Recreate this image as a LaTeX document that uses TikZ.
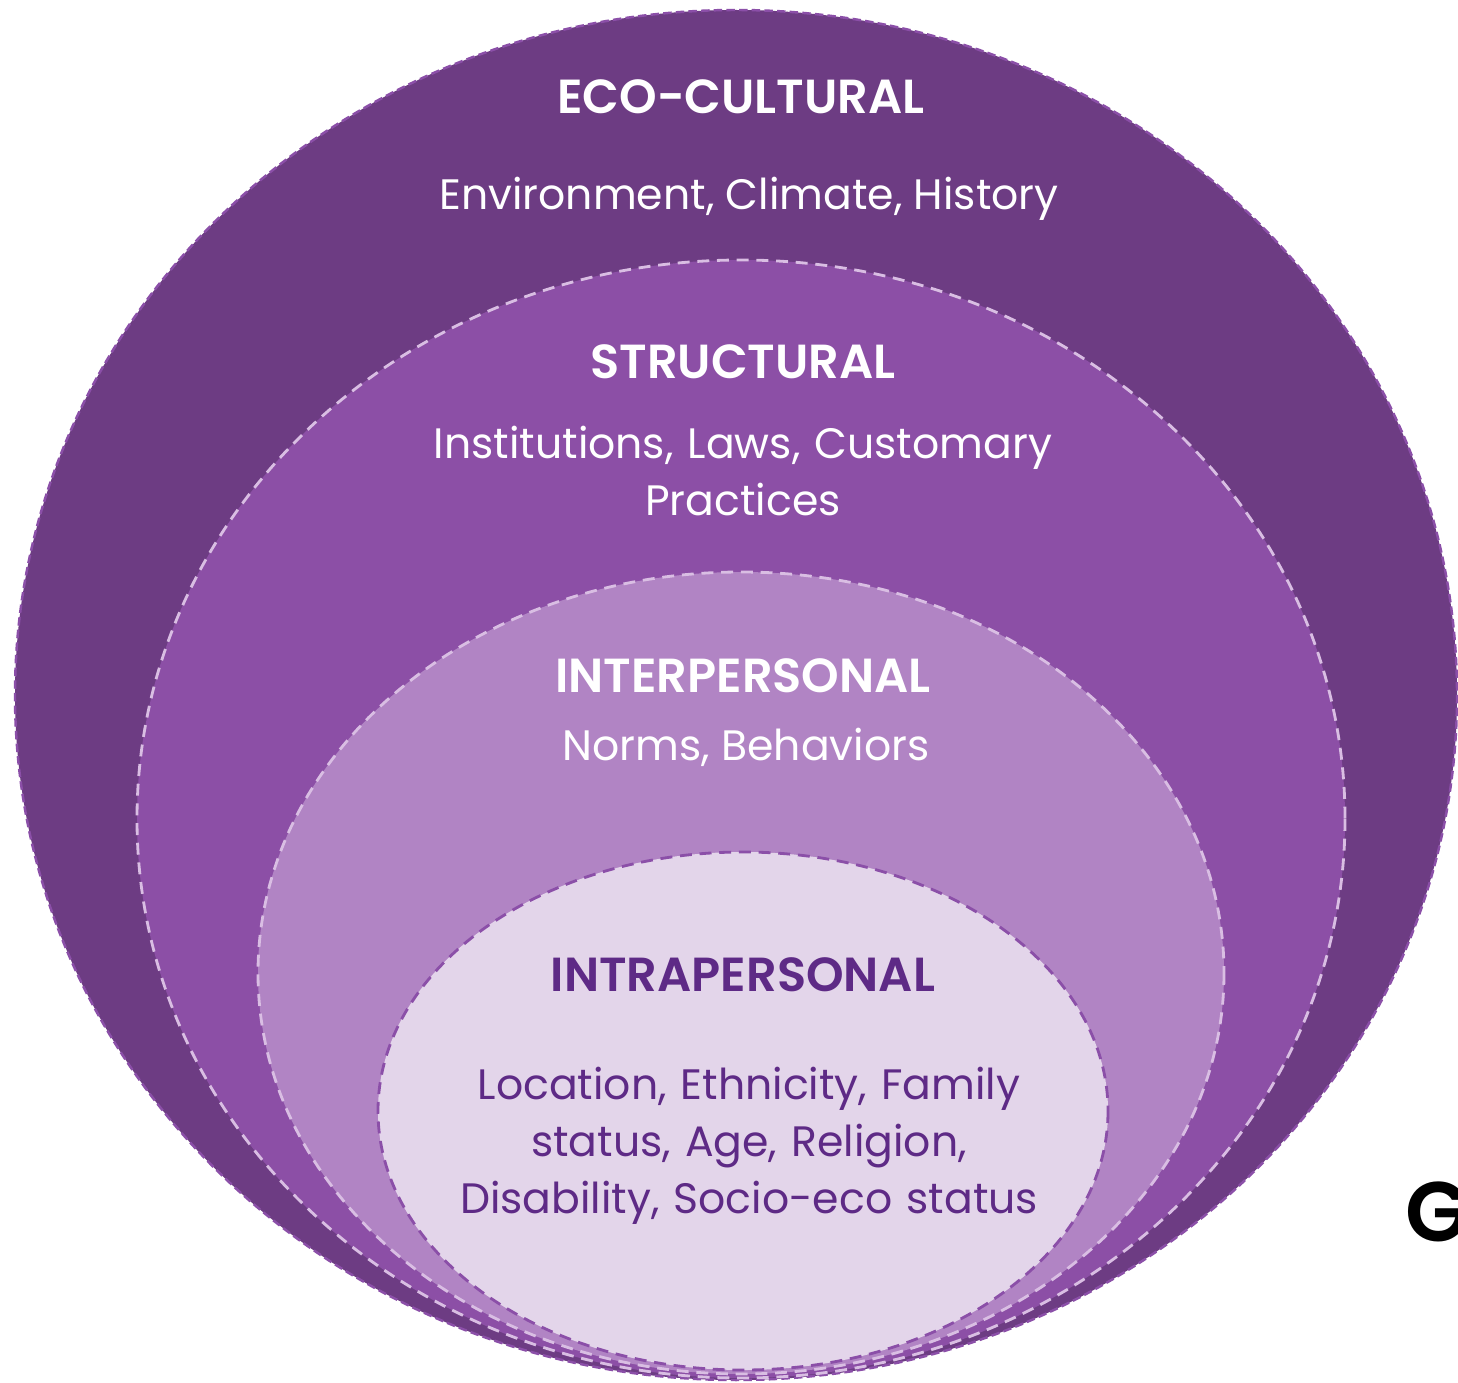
\documentclass[tikz,border=0pt]{standalone}
\usepackage{fontspec}
\setmainfont{Poppins}[BoldFont={Poppins SemiBold}]
\definecolor{ecoc}{HTML}{6D3C83}
\definecolor{strc}{HTML}{8C4FA6}
\definecolor{intc}{HTML}{B184C4}
\definecolor{inpc}{HTML}{E3D5EA}
\definecolor{edgemid}{HTML}{8B4FA8}
\definecolor{edgelt}{HTML}{D9BEE3}
\definecolor{darktxt}{HTML}{5E2A86}
\begin{document}
\begin{tikzpicture}[x=0.01cm,y=-0.01cm,
  layer/.style={line width=0.8pt, dash pattern=on 3.4pt off 2.2pt},
  head/.style={font=\bfseries\fontsize{13.6}{16}\selectfont, text=white, align=center},
  body/.style={font=\fontsize{12.1}{16.2}\selectfont, text=white, align=center},
]
\useasboundingbox (0,0) rectangle (1458,1382);
\fill[white] (0,0) rectangle (1458,1382);
% layers
\path[fill=ecoc, draw=edgemid, line width=0.7pt, dash pattern=on 2.4pt off 1.2pt] (736,695) ellipse [x radius=721, y radius=685];
\path[fill=strc, draw=edgelt, layer] (741,819) ellipse [x radius=604, y radius=559];
\path[fill=intc, draw=edgelt, layer] (741,973) ellipse [x radius=483, y radius=401];
\path[fill=inpc, draw=edgemid, layer] (743,1111) ellipse [x radius=365, y radius=259];
% texts
\node[head] (ecoh) at (741,97) {ECO-CULTURAL};
\node[body] (ecob) at (749,199) {Environment, Climate, History};
\node[head] (strh) at (743,362) {STRUCTURAL};
\node[body, text width=12cm] (strb) at (743,471) {Institutions, Laws, Customary\\Practices};
\node[head] (inth) at (743,676) {INTERPERSONAL};
\node[body] (intb) at (746,747) {Norms, Behaviors};
\node[head, text=darktxt] (inph) at (743,975) {INTRAPERSONAL};
\node[body, text=darktxt, text width=12cm] (inpb) at (749,1146) {Location, Ethnicity, Family\\status, Age, Religion,\\Disability, Socio-eco status};
\node[font=\bfseries\fontsize{24}{28}\selectfont, anchor=west, inner sep=0pt] (gl) at (1405,1212) {G};
\end{tikzpicture}
\end{document}
